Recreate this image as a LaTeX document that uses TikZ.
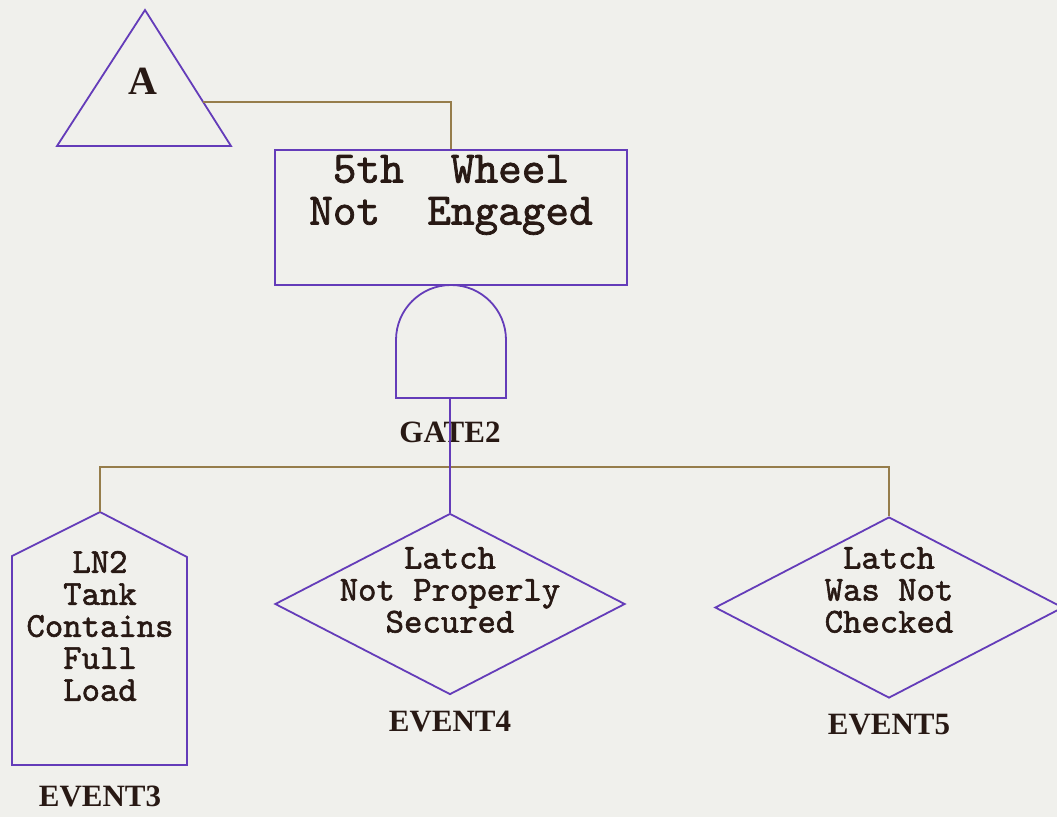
\documentclass[tikz,border=0pt]{standalone}
\usepackage{fontspec}
\setmainfont{Liberation Serif}
\newfontfamily\slabmono{lmmono10-regular.otf}[FakeBold=1.6]
\usetikzlibrary{shapes.geometric}
\definecolor{paper}{RGB}{240,240,236}
\definecolor{edge}{RGB}{100,60,185}
\definecolor{wire}{RGB}{150,125,75}
\definecolor{ink}{RGB}{40,25,20}
\tikzset{
  outline/.style={draw=edge, line width=1.8pt, line join=miter},
  wireline/.style={draw=wire, line width=1.8pt},
  feed/.style={draw=edge, line width=1.8pt},
  descr/.style={font=\slabmono\fontsize{35}{32}\selectfont, align=center, inner sep=0pt, text=ink},
  bigdescr/.style={font=\slabmono\fontsize{45}{42}\selectfont, align=center, inner sep=0pt, text=ink},
  tag/.style={font=\bfseries\fontsize{31}{33}\selectfont, inner sep=0pt, text=ink},
  eventdiamond/.style={diamond, outline, inner sep=0pt, minimum width=#1, minimum height=181},
}
\begin{document}
\begin{tikzpicture}[x=1pt,y=1pt,yscale=-1]
  % page
  \fill[paper] (0,0) rectangle (1057,817);
  \useasboundingbox (0,0) rectangle (1057,817);

  % transfer triangle A
  \draw[outline] (145,10) -- (231,146) -- (57,146) -- cycle;
  \node[font=\bfseries\fontsize{40}{40}\selectfont, inner sep=0pt, text=ink] (Alabel) at (143,81) {A};
  \coordinate (Aout) at (203,102);

  % top event
  \node[outline, rectangle, minimum width=352, minimum height=135, inner sep=0pt] (top) at (451,217.5) {};
  \node[bigdescr] (toptext) at (451,195) {5th~~Wheel\\Not~~Engaged};

  % AND gate
  \draw[outline] (396,398) -- (396,340) arc (180:360:55) -- (506,398) -- cycle;
  \coordinate (gateout) at (450,398);
  \node[tag] (gatelabel) at (450,432) {GATE2};

  % house event
  \draw[outline] (100,512) -- (187,557) -- (187,765) -- (12,765) -- (12,556) -- cycle;
  \coordinate (ev3top) at (100,512);
  \node[descr] (ev3text) at (100,626) {LN2\\Tank\\Contains\\Full\\Load};
  \node[tag] (ev3label) at (100,796) {EVENT3};

  % diamond events
  \node[eventdiamond=350] (ev4) at (450,604) {};
  \node[descr] (ev4text) at (450,590) {Latch\\Not Properly\\Secured};
  \node[tag] (ev4label) at (450,722) {EVENT4};

  \node[eventdiamond=348] (ev5) at (889,607.5) {};
  \node[descr] (ev5text) at (889,590) {Latch\\Was Not\\Checked};
  \node[tag] (ev5label) at (889,725) {EVENT5};

  % connectors
  \coordinate (bus) at (450,467);
  \draw[wireline] (Aout) -| (top.north);
  \draw[wireline] (ev3top) |- (bus) -| (ev5.north);
  \draw[feed] (gateout) -- (ev4.north);
\end{tikzpicture}
\end{document}
